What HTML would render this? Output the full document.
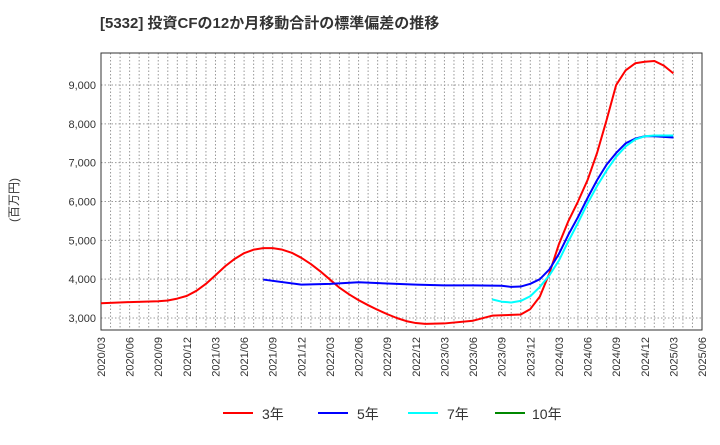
<!DOCTYPE html>
<html><head><meta charset="utf-8"><style>
body{margin:0;background:#fff;font-family:"Liberation Sans","Noto Sans CJK JP",sans-serif}
</style></head><body>
<svg id="c" width="720" height="440" xmlns="http://www.w3.org/2000/svg" font-family="Liberation Sans, Noto Sans CJK JP, sans-serif">
<text x="100" y="28" font-size="15" font-weight="bold" fill="#333">[5332]  投資CFの12か月移動合計の標準偏差の推移</text>
<text transform="translate(18,200) rotate(-90)" font-size="12" fill="#333" text-anchor="middle">(百万円)</text>
<g id="grid"></g><g id="axes"></g><g id="series"></g>
<g>
<line x1="223" y1="413" x2="253" y2="413" stroke="#f00" stroke-width="2"/><text x="262" y="419" font-size="14" fill="#333">3年</text>
<line x1="318" y1="413" x2="348" y2="413" stroke="#00f" stroke-width="2"/><text x="357" y="419" font-size="14" fill="#333">5年</text>
<line x1="408" y1="413" x2="438" y2="413" stroke="#0ff" stroke-width="2"/><text x="447" y="419" font-size="14" fill="#333">7年</text>
<line x1="495" y1="413" x2="525" y2="413" stroke="#080" stroke-width="2"/><text x="532" y="419" font-size="14" fill="#333">10年</text>
</g>
</svg>
<script>
const xTickLabels=["2020/03","2020/06","2020/09","2020/12","2021/03","2021/06","2021/09","2021/12","2022/03","2022/06","2022/09","2022/12","2023/03","2023/06","2023/09","2023/12","2024/03","2024/06","2024/09","2024/12","2025/03","2025/06"];
const yTicks=[3000,4000,5000,6000,7000,8000,9000];
const redDates=["2020/03","2020/06","2020/09","2020/10","2020/11","2020/12","2021/01","2021/02","2021/03","2021/04","2021/05","2021/06","2021/07","2021/08","2021/09","2021/10","2021/11","2021/12","2022/01","2022/02","2022/03","2022/04","2022/05","2022/06","2022/07","2022/08","2022/09","2022/10","2022/11","2022/12","2023/01","2023/03","2023/06","2023/08","2023/10","2023/11","2023/12","2024/01","2024/02","2024/03","2024/04","2024/05","2024/06","2024/07","2024/08","2024/09","2024/10","2024/11","2024/12","2025/01","2025/02","2025/03"];
const redValues=[3380,3410,3430,3450,3500,3570,3700,3880,4100,4330,4520,4670,4760,4800,4800,4760,4680,4550,4390,4200,3990,3780,3610,3460,3330,3210,3100,3000,2920,2870,2850,2860,2930,3060,3080,3090,3230,3550,4150,4900,5500,6000,6550,7250,8100,9000,9380,9560,9600,9620,9500,9300];
const blueDates=["2021/08","2021/12","2022/03","2022/06","2022/09","2022/12","2023/03","2023/06","2023/09","2023/10","2023/11","2023/12","2024/01","2024/02","2024/03","2024/04","2024/05","2024/06","2024/07","2024/08","2024/09","2024/10","2024/11","2024/12","2025/01","2025/03"];
const blueValues=[3990,3860,3880,3920,3890,3860,3840,3840,3830,3800,3810,3880,4000,4250,4650,5150,5600,6090,6550,6950,7250,7500,7620,7680,7680,7650];
const cyanDates=["2023/08","2023/09","2023/10","2023/11","2023/12","2024/01","2024/02","2024/03","2024/04","2024/05","2024/06","2024/07","2024/08","2024/09","2024/10","2024/11","2024/12","2025/01","2025/03"];
const cyanValues=[3480,3420,3400,3440,3560,3800,4100,4480,4980,5450,5950,6400,6800,7150,7420,7600,7680,7700,7700];
const L=101,R=702,T=53,B=330;
const NS="http://www.w3.org/2000/svg";
function mi(d){const p=d.split("/");return (+p[0]-2020)*12+(+p[1]-3);}
function xs(d){return L+mi(d)*(R-L)/63;}
function ys(v){return 318-(v-3000)*38.83/1000;}
function mk(t,a,p){const e=document.createElementNS(NS,t);for(const k in a)e.setAttribute(k,a[k]);p.appendChild(e);return e;}
const g=document.getElementById("grid"),ax=document.getElementById("axes"),s=document.getElementById("series");
for(let m=1;m<63;m++){const x=L+m*(R-L)/63;const l=mk("line",{x1:x,y1:T,x2:x,y2:B,stroke:"#999","stroke-dasharray":"1.5,2","stroke-width":1},g);

}
yTicks.forEach(v=>{const y=ys(v);const l=mk("line",{x1:L,y1:y,x2:R,y2:y,stroke:"#999","stroke-dasharray":"1.5,2","stroke-width":1},g);


const t=mk("text",{x:L-5,y:y+4,"font-size":11,fill:"#333","text-anchor":"end"},ax);t.textContent=v.toLocaleString("en-US");

});
xTickLabels.forEach(d=>{const x=xs(d);const t=mk("text",{transform:`translate(${x+4},337) rotate(-90)`,"font-size":11,fill:"#333","text-anchor":"end"},ax);t.textContent=d;

});
const fr=mk("rect",{x:L,y:T,width:R-L,height:B-T,fill:"none",stroke:"#333","stroke-width":1},ax);


function line(ds,vs,c,n){const p=mk("polyline",{points:ds.map((d,i)=>xs(d)+","+ys(vs[i])).join(" "),fill:"none",stroke:c,"stroke-width":2,"stroke-linejoin":"round"},s);

}
line(redDates,redValues,"#f00","series-3y");
line(blueDates,blueValues,"#00f","series-5y");
line(cyanDates,cyanValues,"#0ff","series-7y");
</script>
</body></html>
